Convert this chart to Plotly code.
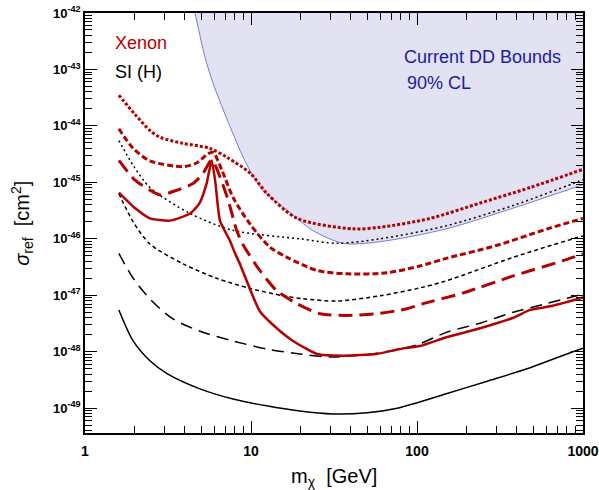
import plotly.graph_objects as go

# ---------------- data ----------------
# SI (H) curves, black
si_solid_x = [1.6, 1.95, 2.46, 3.12, 4.93, 7.8, 12.4, 19.7, 31, 50, 76, 150, 265, 480, 830, 1000]
si_solid_y = [5.5e-48, 1.55e-48, 6.9e-49, 4.1e-49, 2.2e-49, 1.45e-49, 1.1e-49, 8.9e-50, 7.9e-50,
              8.3e-50, 1.0e-49, 1.8e-49, 3.0e-49, 5.2e-49, 9.5e-49, 1.15e-48]

si_ldash_x = [1.6, 1.95, 2.53, 3.39, 4.93, 7.8, 12.4, 19.7, 30, 50, 80, 104, 150, 240, 380, 600, 1000]
si_ldash_y = [5.5e-47, 2.0e-47, 7.9e-48, 3.8e-48, 2.3e-48, 1.55e-48, 1.12e-48, 9.1e-49, 8.1e-49,
              8.9e-49, 1.12e-48, 1.38e-48, 2.2e-48, 3.2e-48, 5.0e-48, 7.1e-48, 1.05e-47]

si_sdash_x = [1.6, 1.95, 2.46, 3.9, 6.2, 9.9, 15.6, 20.5, 33, 60, 104, 150, 380, 870, 1000]
si_sdash_y = [6.3e-46, 2.0e-46, 8.1e-47, 3.6e-47, 2.0e-47, 1.32e-47, 9.8e-48, 8.7e-48, 7.9e-48,
              9.8e-48, 1.35e-47, 1.8e-47, 4.7e-47, 1.0e-46, 1.12e-46]

si_dot_x = [1.6, 1.95, 2.46, 4.3, 7.8, 19.7, 33, 60, 150, 380, 870, 1000]
si_dot_y = [5.5e-45, 2.0e-45, 8.1e-46, 2.8e-46, 1.41e-46, 1.0e-46, 8.3e-47, 1.0e-46, 1.7e-46,
            3.9e-46, 9.5e-46, 1.12e-45]

# Xenon curves, red
xe_solid_x = [1.6, 2.0, 2.46, 3.25, 4.3, 4.9, 5.4, 5.8, 6.1, 6.5, 7.5, 8.0, 8.6, 9.9, 11.3, 14.3,
              17.9, 25, 36, 57, 79, 104, 150, 240, 380, 480, 660, 1000]
xe_solid_y = [6.6e-46, 3.5e-46, 2.3e-46, 2.1e-46, 2.8e-46, 4.3e-46, 9.5e-46, 2.45e-45, 1.0e-45,
              2.1e-46, 9.0e-47, 5.6e-47, 3.5e-47, 1.25e-47, 5.2e-48, 2.6e-48, 1.55e-48, 9.1e-49,
              8.5e-49, 9.1e-49, 1.12e-48, 1.26e-48, 1.8e-48, 2.6e-48, 4.0e-48, 5.5e-48, 6.5e-48,
              9.1e-48]

xe_ldash_x = [1.6, 2.0, 2.83, 3.5, 4.47, 5.15, 5.8, 7.2, 8.2, 8.9, 11.3, 14.3, 18.9, 26, 38, 57,
              87, 109, 190, 380, 760, 1000]
xe_ldash_y = [2.45e-45, 1.1e-45, 6.0e-46, 7.1e-46, 9.5e-46, 1.45e-45, 2.5e-45, 5.4e-46, 1.4e-46,
              8.1e-47, 2.75e-47, 1.2e-47, 7.1e-48, 4.7e-48, 4.4e-48, 4.7e-48, 5.75e-48, 7.1e-48,
              1.1e-47, 2.2e-47, 4.1e-47, 5.4e-47]

xe_sdash_x = [1.6, 1.95, 2.46, 3.9, 4.7, 5.5, 5.9, 6.7, 7.8, 9.9, 13, 16.5, 25, 38, 66, 104, 150,
              300, 610, 1000]
xe_sdash_y = [8.9e-45, 4.0e-45, 2.4e-45, 1.9e-45, 2.2e-45, 3.2e-45, 3.4e-45, 1.6e-45, 5.4e-46,
              1.8e-46, 7.1e-47, 4.7e-47, 2.75e-47, 2.4e-47, 2.5e-47, 3.3e-47, 4.5e-47, 7.6e-47,
              1.5e-46, 2.3e-46]

xe_dot_x = [1.6, 2.0, 2.46, 2.83, 3.9, 5.65, 7.2, 9.9, 12.5, 19, 41, 60, 120, 240, 480, 1000]
xe_dot_y = [3.5e-44, 1.6e-44, 8.3e-45, 6.3e-45, 4.9e-45, 4.0e-45, 2.75e-45, 1.45e-45, 6.3e-46,
            2.3e-46, 1.5e-46, 1.6e-46, 2.3e-46, 4.3e-46, 8.1e-46, 1.7e-45]

# Current direct-detection bound (90% CL)
dd_x = [4.6, 5.28, 5.9, 7.5, 9.4, 11.8, 16.5, 23.6, 36, 60, 150, 380, 1000]
dd_y = [1.0e-42, 1.66e-43, 5.75e-44, 9.5e-45, 2.1e-45, 7.2e-46, 3.2e-46, 1.4e-46, 8.3e-47,
        8.9e-47, 1.5e-46, 3.5e-46, 9.1e-46]

# axes
x_tick_vals = [1, 10, 100, 1000]
x_tick_text = ["1", "10", "100", "1000"]
y_exponents = [-49, -48, -47, -46, -45, -44, -43, -42]
y_top = 1e-42
X_RANGE = [0, 3]
Y_RANGE = [-49.44, -42]

# ---------------- figure ----------------
RED = "#b30000"
fig = go.Figure()

# shaded bound region
fig.add_trace(go.Scatter(x=dd_x, y=[y_top] * len(dd_x), mode="lines",
                         line=dict(width=0, color="rgba(0,0,0,0)"), hoverinfo="skip",
                         showlegend=False))
fig.add_trace(go.Scatter(x=dd_x, y=dd_y, mode="lines", fill="tonexty",
                         fillcolor="#e2e2f2", line=dict(color="#5a5ad0", width=0.8,
                                                        shape="spline", smoothing=0.8),
                         showlegend=False))


def add_line(x, y, color, width, dash, smoothing=0.8):
    fig.add_trace(go.Scatter(x=x, y=y, mode="lines", showlegend=False,
                             line=dict(color=color, width=width, dash=dash,
                                       shape="spline", smoothing=smoothing)))


add_line(si_solid_x, si_solid_y, "black", 1.5, "solid")
add_line(si_ldash_x, si_ldash_y, "black", 1.5, "12px,7px")
add_line(si_sdash_x, si_sdash_y, "black", 1.5, "4px,3px")
add_line(si_dot_x, si_dot_y, "black", 1.5, "2px,3px")

add_line(xe_dot_x, xe_dot_y, RED, 3, "3px,2px")
add_line(xe_sdash_x, xe_sdash_y, RED, 3, "6px,3px")
add_line(xe_ldash_x, xe_ldash_y, RED, 3, "14px,7px", smoothing=0.6)
add_line(xe_solid_x, xe_solid_y, RED, 2.5, "solid", smoothing=0.5)

tickfont_x = dict(family="Liberation Sans, Arial, sans-serif", size=14, color="black")
tickfont_y = dict(family="Liberation Sans, Arial, sans-serif", size=13, color="black")

fig.update_layout(
    xaxis=dict(type="log", range=X_RANGE, showline=True, linecolor="black", linewidth=1.5,
               mirror="ticks", ticks="inside", ticklen=12, tickwidth=1.3, tickcolor="black",
               tickmode="array", tickvals=x_tick_vals,
               ticktext=["<b>%s</b>" % t for t in x_tick_text], ticklabelstandoff=4,
               tickfont=tickfont_x, showgrid=False, zeroline=False, automargin=False,
               minor=dict(dtick="D1", ticks="inside", ticklen=7, tickwidth=1.2,
                          tickcolor="black", showgrid=False)),
    yaxis=dict(type="log", range=Y_RANGE, showline=True, linecolor="black", linewidth=1.5,
               mirror="ticks", ticks="inside", ticklen=12, tickwidth=1.3, tickcolor="black",
               tickmode="array", tickvals=[10.0 ** e for e in y_exponents],
               ticktext=["<b>10<sup>%d</sup></b>" % e for e in y_exponents],
               tickfont=tickfont_y, showgrid=False, zeroline=False, automargin=False,
               minor=dict(dtick="D1", ticks="inside", ticklen=7, tickwidth=1.2,
                          tickcolor="black", showgrid=False)),
)

afont = "Liberation Sans, Arial, sans-serif"
fig.add_annotation(text="Xenon", xref="paper", yref="paper", x=0.056, y=0.929,
                   xanchor="left", yanchor="middle", showarrow=False,
                   font=dict(family=afont, size=18, color=RED))
fig.add_annotation(text="SI (H)", xref="paper", yref="paper", x=0.056, y=0.86,
                   xanchor="left", yanchor="middle", showarrow=False,
                   font=dict(family=afont, size=18, color="black"))
fig.add_annotation(text="Current DD Bounds", xref="paper", yref="paper", x=0.637, y=0.895,
                   xanchor="left", yanchor="middle", showarrow=False,
                   font=dict(family=afont, size=18, color="#1a1aa8"))
fig.add_annotation(text="90% CL", xref="paper", yref="paper", x=0.643, y=0.833,
                   xanchor="left", yanchor="middle", showarrow=False,
                   font=dict(family=afont, size=18, color="#1a1aa8"))
fig.add_annotation(text="<i>σ</i><sub>ref</sub>  [cm<sup>2</sup>]", xref="paper", yref="paper",
                   x=-0.127, y=0.5, textangle=-90, xanchor="center", yanchor="middle",
                   showarrow=False, font=dict(family=afont, size=20, color="black"))
fig.add_annotation(text="m<sub>χ</sub>  [GeV]", xref="paper", yref="paper",
                   x=0.5, y=-0.105, xanchor="center", yanchor="middle",
                   showarrow=False, font=dict(family=afont, size=20, color="black"))

fig.update_layout(width=599, height=490, margin=dict(l=85, r=16, t=13, b=57, autoexpand=False),
                  paper_bgcolor="white", plot_bgcolor="white", showlegend=False)

fig.write_html("out.html")
